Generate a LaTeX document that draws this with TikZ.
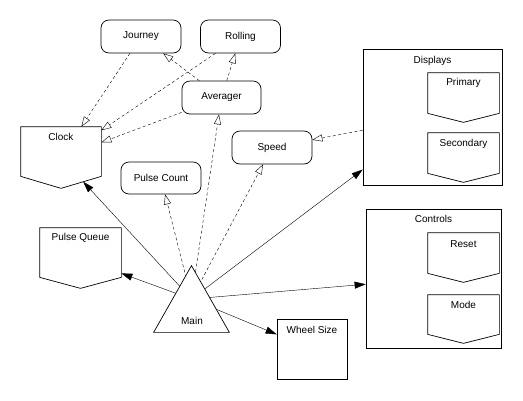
\documentclass[tikz,border=0pt]{standalone}
\usepackage{fontspec}
\setmainfont{Liberation Sans}
\usetikzlibrary{arrows.meta,calc}
\pgfdeclarelayer{bg}
\pgfsetlayers{bg,main}
\newcommand{\docpath}[2]{\draw (#1.north west) -- (#1.north east) -- ([yshift=#2]#1.south east) -- (#1.south) -- ([yshift=#2]#1.south west) -- cycle;}
\begin{document}
\begin{tikzpicture}[x=1pt,y=-1pt,line width=0.7pt,
  lbl/.style={font=\fontsize{10}{12}\selectfont, inner sep=0pt},
  rbox/.style={draw, rounded corners=8pt, minimum width=80pt, minimum height=33pt, lbl},
  shell/.style={inner sep=0pt},
  plainbox/.style={draw, inner sep=0pt},
  dep/.style={dash pattern=on 3pt off 2.5pt, -{Triangle[open, length=10pt, width=7pt]}},
  use/.style={-{Triangle[length=11pt, width=7pt]}}]
\useasboundingbox (0,0) rectangle (523,400);
% rounded boxes
\node[rbox] (journey) at (141,36.5) {Journey};
\node[rbox] (rolling) at (240.5,36.5) {Rolling};
\node[rbox, minimum width=79pt] (averager) at (221.5,97.5) {Averager};
\node[rbox] (speed) at (272,147.5) {Speed};
\node[rbox, minimum height=32pt] (pcount) at (161,178) {Pulse Count};
% clock
\node[shell, minimum width=80pt, minimum height=61pt] (clock) at (61,157.5) {};
\docpath{clock}{12pt}
\node[lbl] (clocklbl) at ([yshift=-10pt]clock.north) {Clock};
% pulse queue
\node[shell, minimum width=81pt, minimum height=60pt] (pq) at (80.5,258) {};
\docpath{pq}{11pt}
\node[lbl] (pqlbl) at ([yshift=-10pt]pq.north) {Pulse Queue};
% displays
\node[plainbox, minimum width=139pt, minimum height=136pt] (displays) at (432.5,117) {};
\node[lbl] (displayslbl) at ([yshift=-12pt]displays.north) {Displays};
\node[shell, minimum width=71pt, minimum height=49pt] (primary) at (463.5,97.5) {};
\docpath{primary}{9pt}
\node[lbl] (primarylbl) at ([yshift=-10pt]primary.north) {Primary};
\node[shell, minimum width=71pt, minimum height=49pt] (secondary) at (463.5,157.5) {};
\docpath{secondary}{9pt}
\node[lbl] (secondarylbl) at ([yshift=-11pt]secondary.north) {Secondary};
% controls
\node[plainbox, minimum width=135pt, minimum height=139pt] (controls) at (433.5,278.5) {};
\node[lbl] (controlslbl) at ([yshift=-10pt]controls.north) {Controls};
\node[shell, minimum width=71pt, minimum height=49pt] (reset) at (463.5,257.5) {};
\docpath{reset}{9pt}
\node[lbl] (resetlbl) at ([yshift=-11pt]reset.north) {Reset};
\node[shell, minimum width=71pt, minimum height=48pt] (mode) at (463.5,319) {};
\docpath{mode}{9pt}
\node[lbl] (modelbl) at ([yshift=-10pt]mode.north) {Mode};
% wheel size
\node[plainbox, minimum width=70pt, minimum height=60pt] (wheel) at (312,349) {};
\node[lbl] (wheellbl) at ([yshift=-11pt]wheel.north) {Wheel Size};
% main
\node[shell, minimum width=75pt, minimum height=66pt] (main) at (191.5,299) {};
\draw[fill=white] (main.south west) -- (main.south east) -- (main.north) -- cycle;
\node[lbl] (mainlbl) at (192,321) {Main};
% anchor points
\coordinate (clockin) at ($(clock.south)!0.55!([yshift=12pt]clock.south east)$);
\coordinate (pqin) at ([yshift=15pt]pq.south east);
\begin{pgfonlayer}{bg}
\draw[dep] (journey) -- (clock);
\draw[dep] (rolling) -- (clock);
\draw[dep] (averager) -- (clock);
\draw[dep] (averager) -- (journey);
\draw[dep] (averager) -- (rolling);
\draw[dep] (displays) -- (speed);
\draw[dep] (main.center) -- (averager);
\draw[dep] (main.center) -- (pcount);
\draw[dep] (main.center) -- (speed);
\draw[use] (main.center) -- (clockin);
\draw[use] (main.center) -- (pqin);
\draw[use] (main.center) -- (displays);
\draw[use] (main.center) -- (controls);
\draw[use] (main.center) -- (wheel);
\end{pgfonlayer}
\end{tikzpicture}
\end{document}
